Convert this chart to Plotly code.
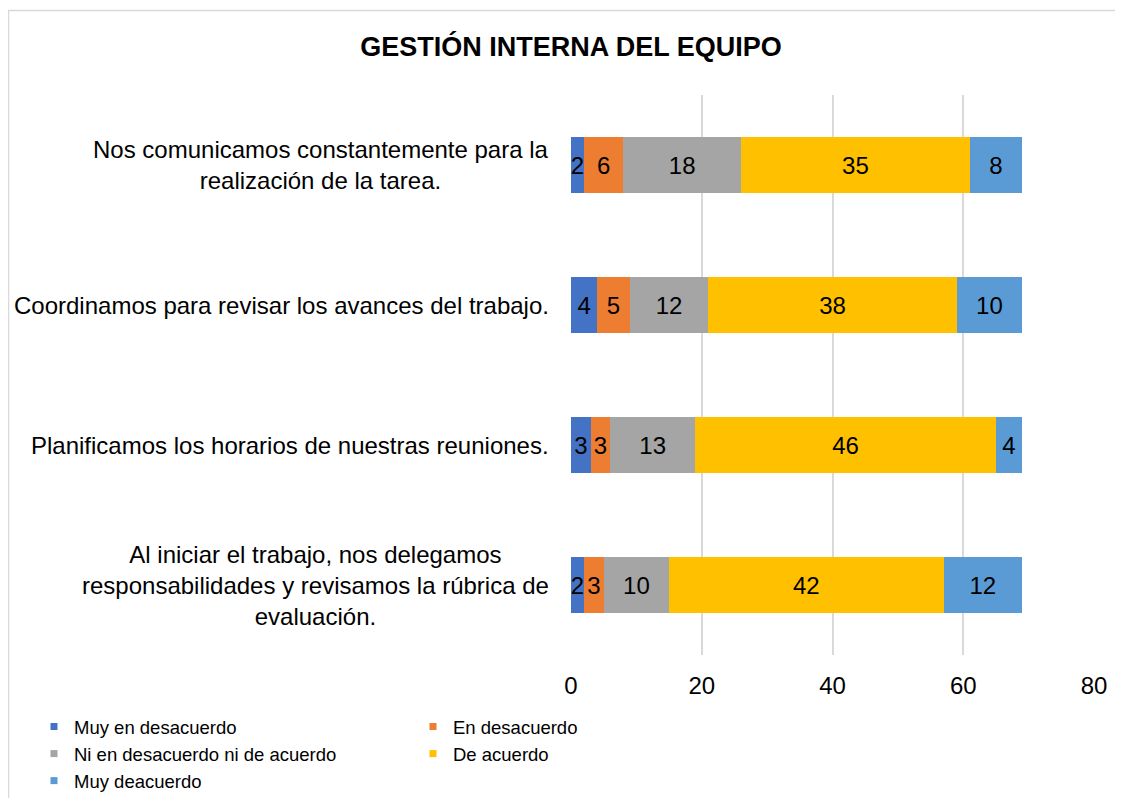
import plotly.graph_objects as go

# the page body adds an 8px margin, so the figure is drawn 8px smaller
W, H = 1115, 790
FONT = "Arial, Liberation Sans, sans-serif"

categories = [
    "Nos comunicamos constantemente para la<br>realización de la tarea.",
    "Coordinamos para revisar los avances del trabajo.",
    "Planificamos los horarios de nuestras reuniones.",
    "Al iniciar el trabajo, nos delegamos<br>responsabilidades y revisamos la rúbrica de<br>evaluación.",
]
series_names = [
    "Muy en desacuerdo",
    "En desacuerdo",
    "Ni en desacuerdo ni de acuerdo",
    "De acuerdo",
    "Muy deacuerdo",
]
muy_en_desacuerdo = [2, 4, 3, 2]
en_desacuerdo = [6, 5, 3, 3]
ni_ni = [18, 12, 13, 10]
de_acuerdo = [35, 38, 46, 42]
muy_deacuerdo = [8, 10, 4, 12]
colors = ["#4472C4", "#ED7D31", "#A5A5A5", "#FFC000", "#5B9BD5"]
x_ticks = [0, 20, 40, 60, 80]

series = [muy_en_desacuerdo, en_desacuerdo, ni_ni, de_acuerdo, muy_deacuerdo]

L, R, T, B = 563, 29, 87, 143
PW, PH = W - L - R, H - T - B

fig = go.Figure()
for name, vals, col in zip(series_names, series, colors):
    fig.add_trace(go.Bar(
        y=categories, x=vals, orientation="h", name=name,
        marker=dict(color=col, line=dict(width=0)),
        text=vals, textposition="inside", insidetextanchor="middle",
        textangle=0, constraintext="none", cliponaxis=False,
        textfont=dict(family=FONT, size=24, color="#000000"),
        showlegend=False,
    ))
    # small square legend markers like the original
    fig.add_trace(go.Scatter(
        x=[None], y=[None], mode="markers", name=name,
        marker=dict(symbol="square", size=7, color=col),
    ))

# category labels, centred multi-line like the original
for cat in categories:
    fig.add_annotation(
        x=0, xref="paper", y=cat, yref="y", text=cat,
        xanchor="right", yanchor="middle", align="center", xshift=-20,
        showarrow=False, font=dict(family=FONT, size=24, color="#000000"),
    )

# outer chart border (cropped on the right and bottom in the original)
fig.add_shape(type="rect", xref="paper", yref="paper",
              x0=(0.5 - L) / PW, x1=(1400 - L) / PW,
              y0=1 - (1000 - T) / PH, y1=1 - (2.5 - T) / PH,
              line=dict(color="#D9D9D9", width=1.5), fillcolor="rgba(0,0,0,0)",
              layer="below")

fig.update_layout(
    width=W, height=H,
    barmode="stack", bargap=0.607,
    paper_bgcolor="white", plot_bgcolor="white",
    margin=dict(l=L, r=R, t=T, b=B, autoexpand=False),
    font=dict(family=FONT, color="#000000"),
    title=dict(text="<b>GESTIÓN INTERNA DEL EQUIPO</b>",
               x=L / W, xref="container", xanchor="center",
               y=1 - 39 / H, yref="container", yanchor="middle",
               font=dict(family=FONT, size=27, color="#000000")),
    xaxis=dict(range=[0, 80], tickvals=x_ticks, showgrid=True,
               gridcolor="#D9D9D9", gridwidth=1.5, zeroline=False,
               showline=False, ticks="", ticklabelstandoff=14,
               tickfont=dict(family=FONT, size=24, color="#000000")),
    yaxis=dict(autorange="reversed", showticklabels=False, showgrid=False,
               zeroline=False, showline=False, ticks=""),
    legend=dict(orientation="h", xref="paper", yref="paper",
                x=(26 - L) / PW, y=1 - (700 - T) / PH,
                xanchor="left", yanchor="top",
                entrywidth=334, entrywidthmode="pixels",
                font=dict(family=FONT, size=18.5, color="#000000"),
                itemwidth=30, traceorder="normal"),
)

fig.write_html("out.html")
